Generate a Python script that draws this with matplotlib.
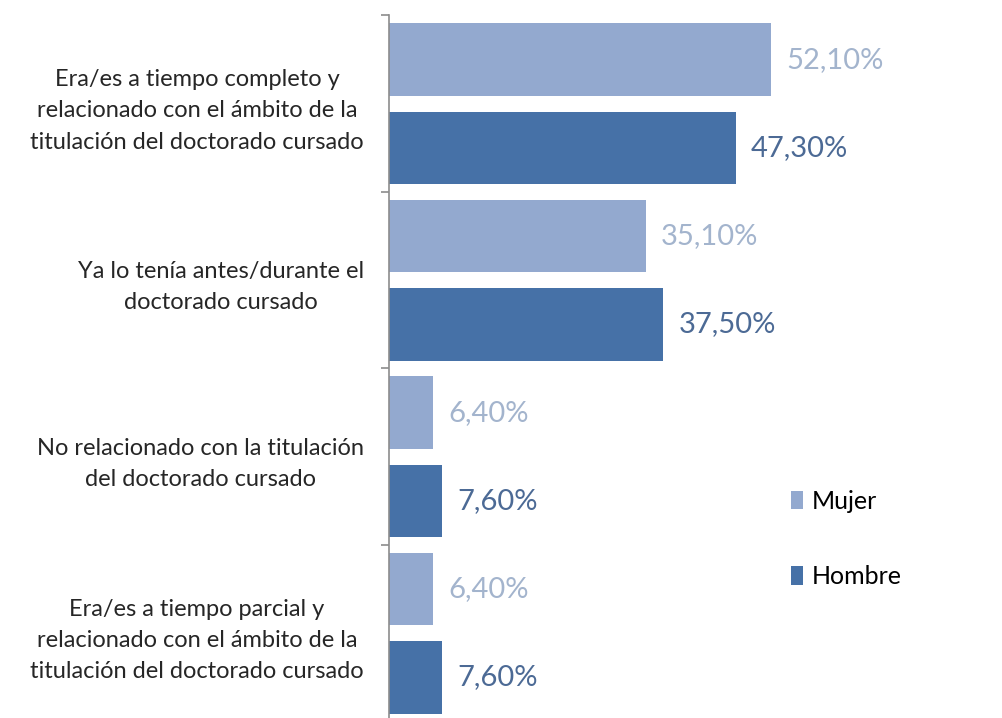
import matplotlib.pyplot as plt
from matplotlib.patches import Patch

plt.rcParams['font.family'] = ['Lato', 'DejaVu Sans']

categories = [
    "Era/es a tiempo completo y\nrelacionado con el ámbito de la\ntitulación del doctorado cursado",
    "Ya lo tenía antes/durante el\ndoctorado cursado",
    "No relacionado con la titulación\ndel doctorado cursado",
    "Era/es a tiempo parcial y\nrelacionado con el ámbito de la\ntitulación del doctorado cursado",
]
mujer = [52.1, 35.1, 6.4, 6.4]
hombre = [47.3, 37.5, 7.6, 7.6]
series_names = ["Mujer", "Hombre"]

bar_colors = ["#93A9CF", "#4671A7"]
label_colors = ["#A3B4CD", "#4C6A95"]

fig = plt.figure(figsize=(10.03, 7.18), dpi=100)
W, H = 1003, 718
ax_left, ax_top, ax_bottom = 389.5, 15.5, 721.5
ax = fig.add_axes([ax_left / W, 1 - ax_bottom / H, (W - ax_left) / W, (ax_bottom - ax_top) / H])

y = list(range(len(categories)))
bh = 0.41
off = 0.25
for vals, yoff, col, lcol in [(mujer, -off, bar_colors[0], label_colors[0]),
                             (hombre, off, bar_colors[1], label_colors[1])]:
    ys = [v + yoff for v in y]
    ax.barh(ys, vals, height=bh, color=col, zorder=2)
    for yy, v in zip(ys, vals):
        ax.annotate(f"{v:.2f}%".replace(".", ","), xy=(v, yy), xytext=(11, 0),
                    textcoords="offset points", ha="left", va="center",
                    fontsize=21, color=lcol, annotation_clip=False)

# axis scale: ~7.4 px per percent
px_per = 7.4
ax.set_xlim(0.5, 0.5 + (W - ax_left) / px_per)
ax.set_ylim(len(categories) - 0.5, -0.5)

for s in ["top", "right", "bottom"]:
    ax.spines[s].set_visible(False)
ax.spines["left"].set_color("#8C8C8C")
ax.spines["left"].set_linewidth(1.2)
ax.set_xticks([])

ax.set_yticks(y)
ax.set_yticklabels(categories, fontsize=17, color="#262626", multialignment="center",
                   linespacing=1.6)
ax.tick_params(axis="y", which="major", length=0, pad=18.5)
ax.set_yticks([i - 0.5 for i in range(len(categories) + 1)], minor=True)
ax.tick_params(axis="y", which="minor", length=6, width=1.2, color="#8C8C8C")

handles = [Patch(facecolor=c, edgecolor="none") for c in bar_colors]
fig.legend(handles, series_names, loc="center left", bbox_to_anchor=(791 / W, 1 - 539 / H),
           frameon=False, fontsize=18, handlelength=0.5, handleheight=0.75,
           handletextpad=0.35, labelspacing=2.1, borderpad=0, borderaxespad=0)

fig.savefig("out.png", dpi=100)
